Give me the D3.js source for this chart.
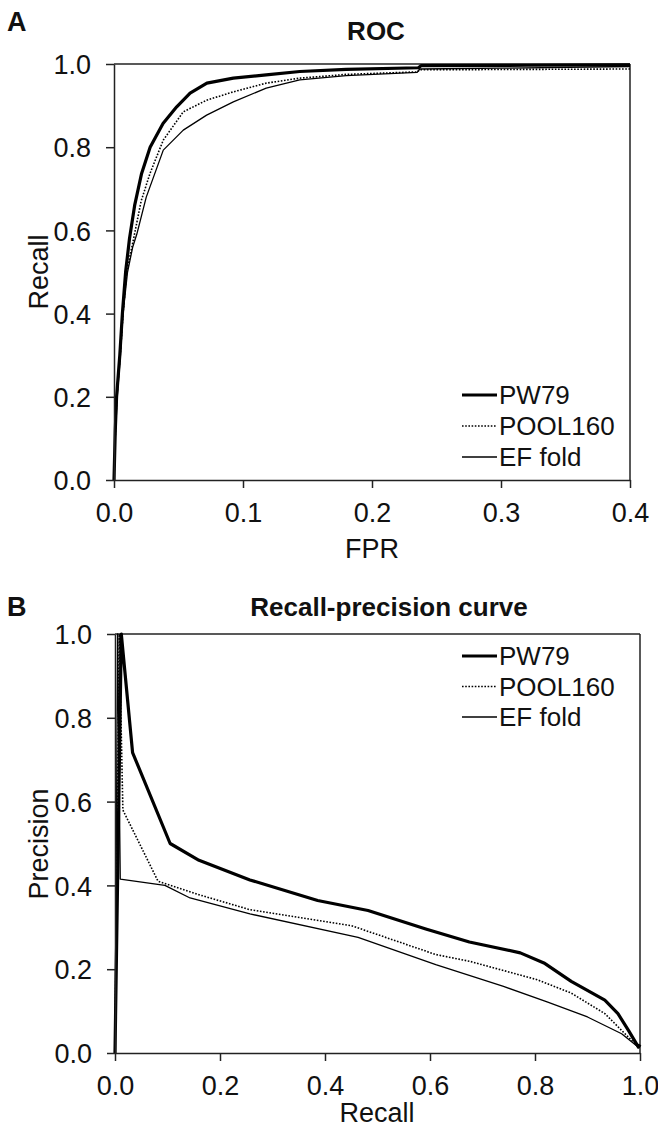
<!DOCTYPE html>
<html><head><meta charset="utf-8">
<script src="https://cdn.jsdelivr.net/npm/d3@7"></script>
<style>
html,body{margin:0;padding:0;background:#fff;}
svg{display:block;font-family:"Liberation Sans",Arial,sans-serif;}
</style></head>
<body>
<svg id="chart" width="658" height="1137"></svg>
<script>
// ---------- Data ----------
const seriesNames = ["PW79", "POOL160", "EF fold"];

// ROC: [FPR, Recall]
const rocPW79 = [[0,0],[0.001,0.12],[0.002,0.2],[0.0045,0.3],[0.0065,0.4],[0.009,0.5],[0.012,0.58],[0.016,0.66],[0.0214,0.737],[0.028,0.8],[0.038,0.857],[0.0486,0.897],[0.059,0.93],[0.072,0.954],[0.0925,0.966],[0.118,0.974],[0.144,0.982],[0.18,0.987],[0.236,0.991],[0.238,0.996],[0.32,0.997],[0.4,0.998]];
const rocPOOL160 = [[0,0],[0.001,0.11],[0.0022,0.2],[0.0048,0.3],[0.007,0.4],[0.0098,0.5],[0.015,0.577],[0.021,0.67],[0.0279,0.737],[0.0382,0.817],[0.0537,0.885],[0.0718,0.913],[0.0925,0.933],[0.118,0.954],[0.144,0.966],[0.18,0.975],[0.235,0.981],[0.237,0.986],[0.4,0.988]];
const rocEF = [[0,0],[0.001,0.1],[0.0025,0.2],[0.005,0.3],[0.007,0.4],[0.0105,0.5],[0.0145,0.56],[0.0176,0.59],[0.025,0.68],[0.0382,0.793],[0.0537,0.841],[0.0718,0.877],[0.0925,0.909],[0.118,0.942],[0.144,0.962],[0.18,0.972],[0.235,0.98],[0.237,0.988],[0.3,0.99],[0.4,0.994]];

// Recall-precision: [Recall, Precision]
const prPW79 = [[0,0],[0.012,1.0],[0.0335,0.717],[0.105,0.5],[0.16,0.46],[0.257,0.413],[0.386,0.364],[0.482,0.34],[0.592,0.296],[0.675,0.265],[0.772,0.239],[0.817,0.215],[0.869,0.171],[0.933,0.126],[0.958,0.094],[0.978,0.054],[0.997,0.014],[1.0,0.02]];
const prPOOL160 = [[0,0],[0.008,1.0],[0.015,0.58],[0.082,0.41],[0.162,0.377],[0.257,0.342],[0.45,0.304],[0.611,0.235],[0.675,0.219],[0.804,0.175],[0.869,0.143],[0.933,0.094],[0.965,0.054],[0.997,0.014],[1.0,0.02]];
const prEF = [[0,0],[0.005,1.0],[0.01,0.415],[0.095,0.4],[0.143,0.37],[0.257,0.332],[0.463,0.276],[0.611,0.211],[0.74,0.159],[0.823,0.122],[0.9,0.086],[0.965,0.046],[0.997,0.014],[1.0,0.02]];

const rocXTicks = [0, 0.1, 0.2, 0.3, 0.4];
const rocYTicks = [0, 0.2, 0.4, 0.6, 0.8, 1.0];
const prXTicks = [0, 0.2, 0.4, 0.6, 0.8, 1.0];
const prYTicks = [0, 0.2, 0.4, 0.6, 0.8, 1.0];

// ---------- Styles ----------
const styles = {
  "PW79": {w: 3.2, dash: null},
  "POOL160": {w: 1.6, dash: "1.6,1.6"},
  "EF fold": {w: 1.3, dash: null}
};
const fmt = d3.format(".1f");
const svg = d3.select("#chart");

function panel(o) {
  const g = svg.append("g");
  const x = d3.scaleLinear().domain(o.xDomain).range([o.left, o.right]);
  const y = d3.scaleLinear().domain([0, 1]).range([o.bottom, o.top]);

  g.append("line").attr("x1", o.left).attr("x2", o.right).attr("y1", o.top).attr("y2", o.top)
    .attr("stroke", "#222").attr("stroke-width", 1.5);
  g.append("line").attr("x1", o.right).attr("x2", o.right).attr("y1", o.top).attr("y2", o.bottom)
    .attr("stroke", "#222").attr("stroke-width", 1.5);

  const line = d3.line().x(d => x(d[0])).y(d => y(d[1]));
  o.series.forEach((s, i) => {
    const st = styles[seriesNames[i]];
    g.append("path").datum(s).attr("d", line).attr("fill", "none")
      .attr("stroke", "#000").attr("stroke-width", st.w)
      .attr("stroke-linejoin", "round")
      .attr("stroke-dasharray", st.dash);
  });

  const xa = g.append("g").attr("transform", `translate(0,${o.bottom})`)
    .call(d3.axisBottom(x).tickValues(o.xTicks).tickFormat(fmt).tickSize(8).tickSizeOuter(0).tickPadding(o.xPad));
  const ya = g.append("g").attr("transform", `translate(${o.left},0)`)
    .call(d3.axisLeft(y).tickValues(o.yTicks).tickFormat(fmt).tickSize(8).tickSizeOuter(0).tickPadding(15));
  [xa, ya].forEach(a => {
    a.selectAll("path,line").attr("stroke", "#222").attr("stroke-width", 1.5);
    a.selectAll("text").attr("font-size", 27).attr("fill", "#111")
      .attr("font-family", "'Liberation Sans',Arial,sans-serif");
  });
  ya.selectAll("text").attr("dy", "0.36em");

  svg.append("text").attr("x", 7).attr("y", o.letterY).text(o.letter)
    .attr("font-size", 27).attr("font-weight", "bold").attr("fill", "#111");
  svg.append("text").attr("x", o.titleX).attr("y", o.titleY).attr("text-anchor", "middle")
    .text(o.title).attr("font-size", 26).attr("font-weight", "bold").attr("fill", "#111");
  svg.append("text").attr("x", o.xLabelX).attr("y", o.xLabelY).attr("text-anchor", "middle")
    .text(o.xLabel).attr("font-size", 27).attr("fill", "#111");
  svg.append("text").attr("transform", `translate(48,${o.yLabelY}) rotate(-90)`).attr("text-anchor", "middle")
    .text(o.yLabel).attr("font-size", 27).attr("fill", "#111");

  seriesNames.forEach((n, i) => {
    const ly = o.legendY + i * o.legendStep;
    const st = styles[n];
    svg.append("line").attr("x1", 462).attr("x2", 497).attr("y1", ly).attr("y2", ly)
      .attr("stroke", "#000").attr("stroke-width", st.w).attr("stroke-dasharray", st.dash);
    svg.append("text").attr("x", 499).attr("y", ly).attr("dy", "0.36em").text(n)
      .attr("font-size", 26).attr("fill", "#111");
  });
}

panel({
  xDomain: [0, 0.4], left: 114, right: 630, top: 64, bottom: 480,
  series: [rocPW79, rocPOOL160, rocEF], xTicks: rocXTicks, yTicks: rocYTicks, xPad: 15,
  letter: "A", letterY: 31, title: "ROC", titleX: 376, titleY: 40,
  xLabel: "FPR", xLabelX: 372, xLabelY: 558, yLabel: "Recall", yLabelY: 272,
  legendY: 395, legendStep: 31
});
panel({
  xDomain: [0, 1], left: 115, right: 640, top: 634, bottom: 1053,
  series: [prPW79, prPOOL160, prEF], xTicks: prXTicks, yTicks: prYTicks, xPad: 15,
  letter: "B", letterY: 616, title: "Recall-precision curve", titleX: 389, titleY: 616,
  xLabel: "Recall", xLabelX: 377, xLabelY: 1122, yLabel: "Precision", yLabelY: 844,
  legendY: 656, legendStep: 30.5
});
</script>
</body></html>
